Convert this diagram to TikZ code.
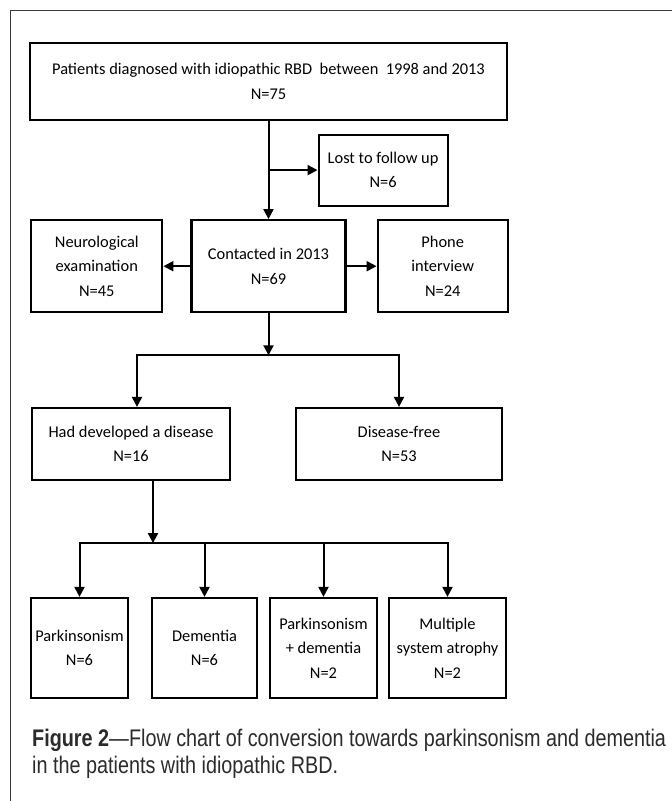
\documentclass[tikz,border=0pt]{standalone}
\usepackage{fontspec}
\setmainfont{Carlito}
\newfontfamily\captionfont[FakeStretch=0.825]{Liberation Sans}
\usepackage{xcolor}
\usetikzlibrary{arrows.meta,positioning}
\definecolor{framegray}{HTML}{3C3C3C}
\definecolor{captiongray}{HTML}{2B2B2B}

\begin{document}
\begin{tikzpicture}[
    x=1pt, y=-1pt,
    box/.style={rectangle, draw, line width=2.2pt, align=center, inner sep=2pt, font=\fontsize{16.4}{24.5}\selectfont},
    arrow/.style={line width=2pt, -{Triangle[length=10pt,width=10pt]}},
    line/.style={line width=2pt},
    caption/.style={font=\captionfont\fontsize{24}{27}\selectfont, text=captiongray, align=left, inner sep=0pt}
]
\useasboundingbox (0,0) rectangle (672,801);

% Frame
\draw[framegray, line width=1.2pt] (10.5,801) -- (10.5,10.5) -- (672,10.5);

% Boxes (top part)
\node[box, minimum width=477pt, minimum height=77pt] (patients) at (268.5,81.5) {Patients diagnosed with idiopathic RBD\ \ between\ \ 1998 and 2013\\N=75};
\node[box, minimum width=154pt, minimum height=92pt, below=98pt of patients] (contacted) {Contacted in 2013\\N=69};
\node[box, minimum width=131pt, minimum height=92pt, left=27pt of contacted] (neuro) {Neurological\\examination\\N=45};
\node[box, minimum width=130pt, minimum height=92pt, right=30pt of contacted] (phone) {Phone\\interview\\N=24};
\coordinate[below=49pt of patients.south] (split0);
\node[box, minimum width=129pt, minimum height=71pt, right=49pt of split0] (lost) {Lost to follow up\\N=6};

% Boxes (outcome)
\coordinate[below=42pt of contacted.south] (split1);
\node[box, minimum width=198pt, minimum height=72pt] (had) at (131,444) {Had developed a disease\\N=16};
\node[box, minimum width=206pt, minimum height=72pt] (free) at (399,444) {Disease-free\\N=53};

% Boxes (diseases)
\coordinate[below=62pt of had.south, xshift=22pt] (split2);
\node[box, minimum width=97pt, minimum height=100pt] (park) at (79.5,648) {Parkinsonism\\N=6};
\node[box, minimum width=105pt, minimum height=100pt] (dem) at (204.5,648) {Dementia\\N=6};
\node[box, minimum width=107pt, minimum height=100pt] (parkdem) at (323.5,648) {Parkinsonism\\+ dementia\\N=2};
\node[box, minimum width=117pt, minimum height=100pt] (msa) at (447.5,648) {Multiple\\system atrophy\\N=2};

%--- Connectors ---
\draw[line] (patients) -- (split0);
\draw[arrow] (split0) -- (contacted);
\draw[arrow] (split0) -- (lost.west |- split0);
\draw[arrow] (contacted) -- (neuro);
\draw[arrow] (contacted) -- (phone);
\draw[arrow] (contacted) -- (split1);
\draw[arrow] (split1) -| ([xshift=6pt]had.north);
\draw[arrow] (split1) -| (free);
\draw[arrow] ([xshift=22pt]had.south) -- (split2);
\draw[arrow] (split2) -| (park);
\draw[arrow] (split2) -| (dem);
\draw[arrow] (split2) -| (parkdem);
\draw[arrow] (split2) -| (msa);

% Caption
\node[caption, anchor=north west] (caption) at (32,728.5) {{\bfseries Figure 2}—Flow chart of conversion towards parkinsonism and dementia\\in the patients with idiopathic RBD.};

\end{tikzpicture}
\end{document}
